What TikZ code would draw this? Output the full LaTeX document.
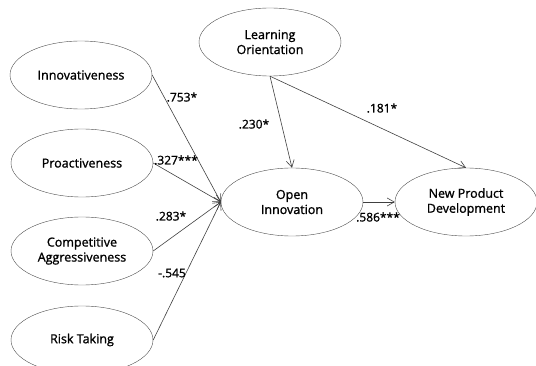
\documentclass[tikz,border=0pt]{standalone}
\usepackage{fontspec}
\setmainfont{Open Sans}
\newfontfamily\diagfont{Open Sans}[FakeBold=1.2]
\usetikzlibrary{arrows.meta,positioning,shapes.geometric}

\begin{document}
\begin{tikzpicture}[x=1pt,y=-1pt,
    construct/.style={draw=black!70, ellipse, minimum width=142pt, minimum height=68pt,
        inner sep=0pt, align=center, font=\diagfont\fontsize{12.5}{15}\selectfont},
    path/.style={draw=black!75, line width=0.6pt, -{Straight Barb[length=7pt,width=8pt]}},
    coef/.style={font=\diagfont\fontsize{12}{14}\selectfont, inner sep=1pt}]
    \useasboundingbox (0,0) rectangle (536,366);
    \clip (0,0) rectangle (536,366);
    % Variaveis independentes
    \node[construct] (inno) at (81,75) {Innovativeness};
    \node[construct] (proa) at (82,163) {Proactiveness};
    \node[construct] (comp) at (82,251) {Competitive\\Aggressiveness};
    \node[construct] (risk) at (82,340) {Risk Taking};
    % Moderadora e dependentes
    \node[construct] (lear) at (270,42) {Learning\\Orientation};
    \node[construct] (open) at (292,202) {Open\\Innovation};
    \node[construct] (npd) at (466,202) {New Product\\Development};
    % Caminhos
    \draw[path] (inno.east) -- (open.west);
    \draw[path] (proa.east) -- (open.west);
    \draw[path] (comp.east) -- (open.west);
    \draw[path] (risk.east) -- (open.west);
    \draw[path] (lear.south) -- (open.north);
    \draw[path] (lear.south) -- (npd.north);
    \draw[path] (open.east) -- (npd.west);
    % Coeficientes
    \node[coef] (c1) at (182,97) {.753*};
    \node[coef] (c2) at (176,160) {.327***};
    \node[coef] (c3) at (171,216) {.283*};
    \node[coef] (c4) at (172,273) {-.545};
    \node[coef] (c5) at (254,124) {.230*};
    \node[coef] (c6) at (382,108) {.181*};
    \node[coef] (c7) at (378,217) {.586***};
\end{tikzpicture}
\end{document}
